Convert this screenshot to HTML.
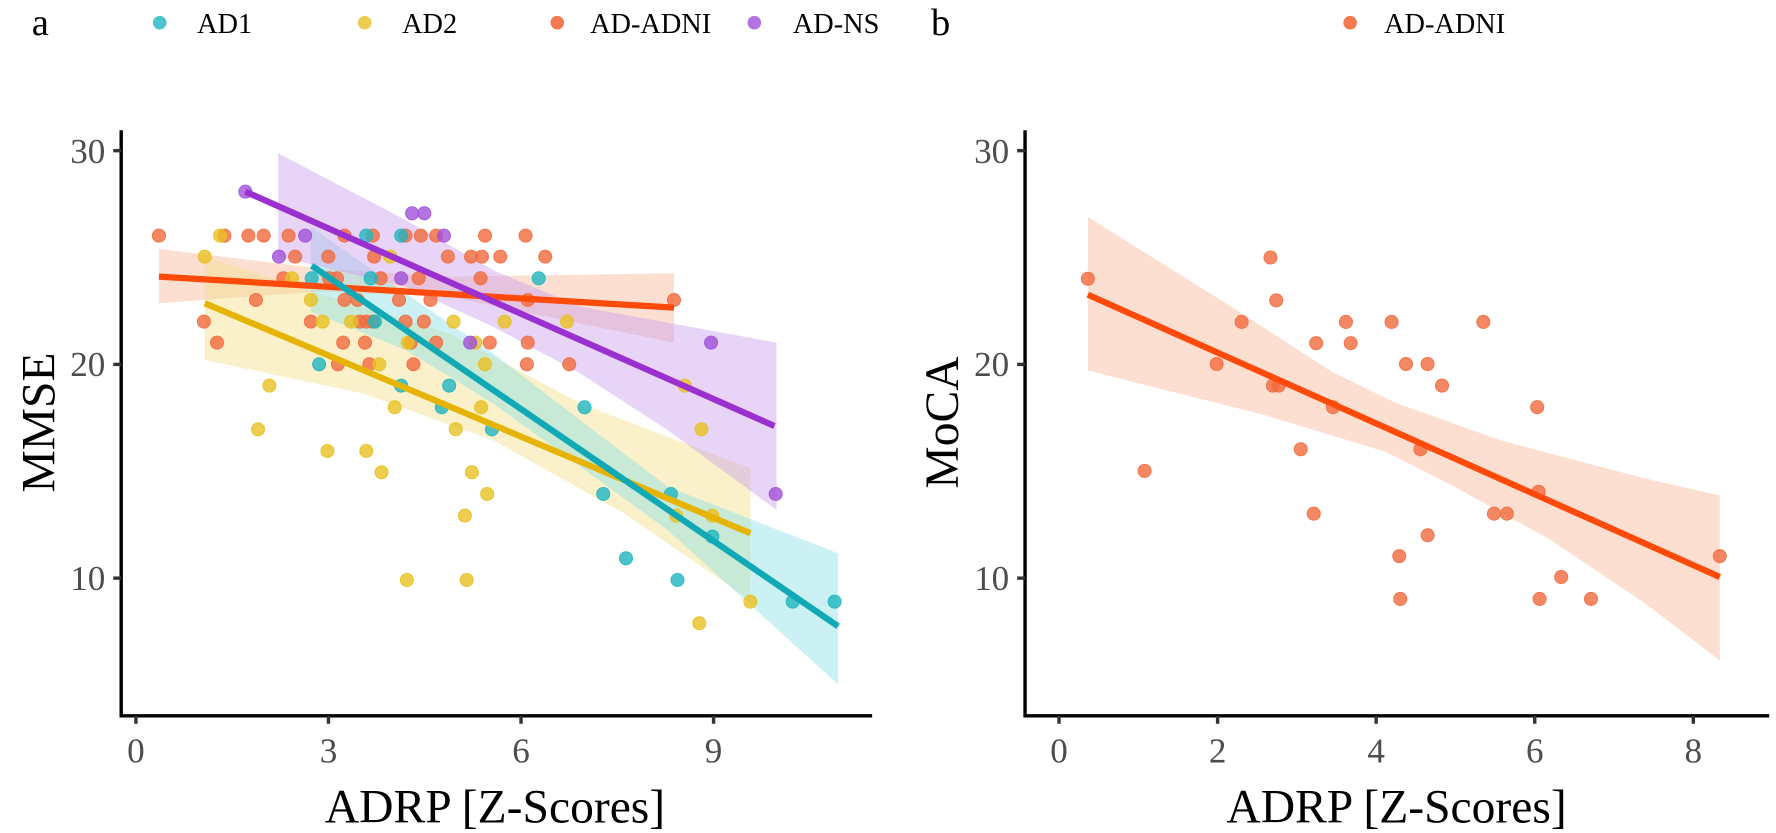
<!DOCTYPE html>
<html><head><meta charset="utf-8"><style>
html,body{margin:0;padding:0;background:#fff;}
svg{display:block;}
text{font-family:"Liberation Serif",serif;}
</style></head><body>
<svg id="s" width="1776" height="833" viewBox="0 0 1568 735.4" xmlns="http://www.w3.org/2000/svg">
<rect width="1568" height="735.4" fill="#fff"/>
<g id="rib"></g><g id="pts"></g><g id="lines"></g>
<g stroke="#000" stroke-width="3" fill="none">
<polyline points="107,115 107,632 770,632"/>
<polyline points="905,115 905,632 1562,632"/>
</g>
<g stroke="#333" stroke-width="3">
<line x1="100" y1="133" x2="107" y2="133"/><line x1="100" y1="321.7" x2="107" y2="321.7"/><line x1="100" y1="510.4" x2="107" y2="510.4"/>
<line x1="898" y1="133" x2="905" y2="133"/><line x1="898" y1="321.7" x2="905" y2="321.7"/><line x1="898" y1="510.4" x2="905" y2="510.4"/>
<line x1="120" y1="632" x2="120" y2="639"/><line x1="290" y1="632" x2="290" y2="639"/><line x1="460" y1="632" x2="460" y2="639"/><line x1="630" y1="632" x2="630" y2="639"/>
<line x1="935" y1="632" x2="935" y2="639"/><line x1="1075" y1="632" x2="1075" y2="639"/><line x1="1215" y1="632" x2="1215" y2="639"/><line x1="1355" y1="632" x2="1355" y2="639"/><line x1="1495" y1="632" x2="1495" y2="639"/>
</g>
<g fill="#4d4d4d" font-size="31" text-anchor="end">
<text x="93" y="144">30</text><text x="93" y="332">20</text><text x="93" y="521">10</text>
<text x="891" y="144">30</text><text x="891" y="332">20</text><text x="891" y="521">10</text>
</g>
<g fill="#4d4d4d" font-size="31" text-anchor="middle">
<text x="120" y="673">0</text><text x="290" y="673">3</text><text x="460" y="673">6</text><text x="630" y="673">9</text>
<text x="935" y="673">0</text><text x="1075" y="673">2</text><text x="1215" y="673">4</text><text x="1355" y="673">6</text><text x="1495" y="673">8</text>
</g>
<g fill="#000" font-size="42" text-anchor="middle">
<text x="437" y="726">ADRP [Z-Scores]</text>
<text x="1233" y="726">ADRP [Z-Scores]</text>
<text transform="translate(48,373) rotate(-90)">MMSE</text>
<text transform="translate(846,373) rotate(-90)">MoCA</text>
</g>
<g font-size="25" fill="#000">
<text x="28" y="31" font-size="34">a</text>
<text x="822" y="31" font-size="34">b</text>
<circle cx="141" cy="20" r="6" fill="#1fb5c0" fill-opacity="0.8"/><text x="174" y="29">AD1</text>
<circle cx="322" cy="20" r="6" fill="#e8c020" fill-opacity="0.8"/><text x="355" y="29">AD2</text>
<circle cx="492" cy="20" r="6" fill="#f26a3d" fill-opacity="0.9"/><text x="521" y="29">AD-ADNI</text>
<circle cx="666" cy="20" r="6" fill="#a050d8" fill-opacity="0.8"/><text x="700" y="29">AD-NS</text>
<circle cx="1192" cy="20" r="6" fill="#f26a3d" fill-opacity="0.9"/><text x="1222" y="29">AD-ADNI</text>
</g>
</svg>
<script>
(function(){
var NS="http://www.w3.org/2000/svg";
function el(p,t,a){var e=document.createElementNS(NS,t);for(var k in a)e.setAttribute(k,a[k]);document.getElementById(p).appendChild(e);}
function A(p){return [88.3+p[0]/2.595,105.9+p[1]/3.398];}
function B(p){return [935+(p[0]-80)/2.357,133+(p[1]-75)/2.989];}
var C={t:["#1fb5c0","#10a9b5","#8fe0e6"],y:["#e8c020","#e6b400","#f5e08a"],o:["#f26a3d","#ff4a0a","#f8b898"],p:["#a050d8","#9b30d0","#caa0ec"]};
function ribbon(f,up,lo,c){var pts=up.map(f).concat(lo.slice().reverse().map(f));
 el("rib","polygon",{points:pts.map(function(q){return q.join(",")}).join(" "),fill:c,"fill-opacity":"0.45"});}
function line(f,a,b,c){var p=f(a),q=f(b);el("lines","line",{x1:p[0],y1:p[1],x2:q[0],y2:q[1],stroke:c,"stroke-width":"5.5"});}
function dot(f,zx,zy,c){var p=f([zx,zy]);el("pts","circle",{cx:p[0],cy:p[1],r:"5.8",fill:c,"fill-opacity":"0.8",stroke:c,"stroke-opacity":"0.9","stroke-width":"0.8"});}
ribbon(A,[[135,387],[500,445],[800,470],[1315,460]],[[135,550],[500,515],[800,530],[1315,668]],C.o[2]);
ribbon(A,[[240,410],[500,520],[800,640],[1100,850],[1490,1045]],[[240,720],[600,820],[900,960],[1200,1180],[1490,1440]],C.y[2]);
ribbon(A,[[483,320],[700,520],[900,700],[1100,900],[1300,1100],[1691,1300]],[[483,575],[700,690],[900,850],[1100,1040],[1300,1230],[1691,1693]],C.t[2]);
ribbon(A,[[408,100],[700,300],[900,450],[1100,560],[1550,668]],[[408,410],[700,500],[900,620],[1100,760],[1300,930],[1550,1170]],C.p[2]);
var rows={
347:{o:[135,285,340,375,432,560,625,700,735,770,882,975],y:[275],p:[470,788],t:[610,690]},
280:{p:[715,743]},215:{p:[333]},
410:{y:[240,665],o:[447,523,628,797,850,875,917,1020],p:[410]},
475:{o:[420,525,543,643,730,872],y:[440],t:[485,620,1005],p:[690]},
540:{o:[357,560,590,685,757,980,1315],y:[483]},
605:{o:[238,483,595,610,625,700,742],y:[510,575,810,927,1070],t:[630]},
668:{o:[268,557,607,712,770,893,980],y:[705,860],p:[848,1400]},
733:{t:[502],o:[545,617,718,978,1075],y:[640,882]},
797:{y:[388,1340],t:[690,800]},
862:{y:[675,873],t:[783,1110]},
928:{y:[362,815,1378],t:[898]},
993:{y:[521,610]},1057:{y:[645,852]},
1122:{y:[887],t:[1153,1308],p:[1548]},
1187:{y:[836,1320,1403]},1250:{t:[1403]},1315:{t:[1205]},
1380:{y:[703,840],t:[1323]},1445:{y:[1490],t:[1587,1683]},1510:{y:[1373]}};
for(var r in rows){for(var k in rows[r]){rows[r][k].forEach(function(x){dot(A,x,+r,C[k][0]);});}}
line(A,[135,470],[1315,563],C.o[1]);
line(A,[240,550],[1490,1240],C.y[1]);
line(A,[485,437],[1691,1519],C.t[1]);
line(A,[333,215],[1545,918],C.p[1]);
ribbon(B,[[140,250],[430,480],[650,660],[780,740],[1000,840],[1300,940],[1455,985]],[[140,655],[500,770],[760,870],[900,960],[1100,1100],[1300,1270],[1455,1420]],C.o[2]);
[[140,413],[258,920],[408,638],[460,527],[520,357],[532,470],[525,695],[537,695],[615,583],[650,752],[583,863],[610,1033],[677,527],[687,583],[772,527],[802,638],[847,638],[877,695],[832,863],[788,1145],[790,1258],[847,1090],[963,527],[985,1033],[1012,1033],[1075,752],[1078,975],[1080,1258],[1125,1200],[1187,1258],[1455,1145]].forEach(function(q){dot(B,q[0],q[1],C.o[0]);});
line(B,[140,455],[1455,1200],C.o[1]);
})();
</script>
</body></html>
